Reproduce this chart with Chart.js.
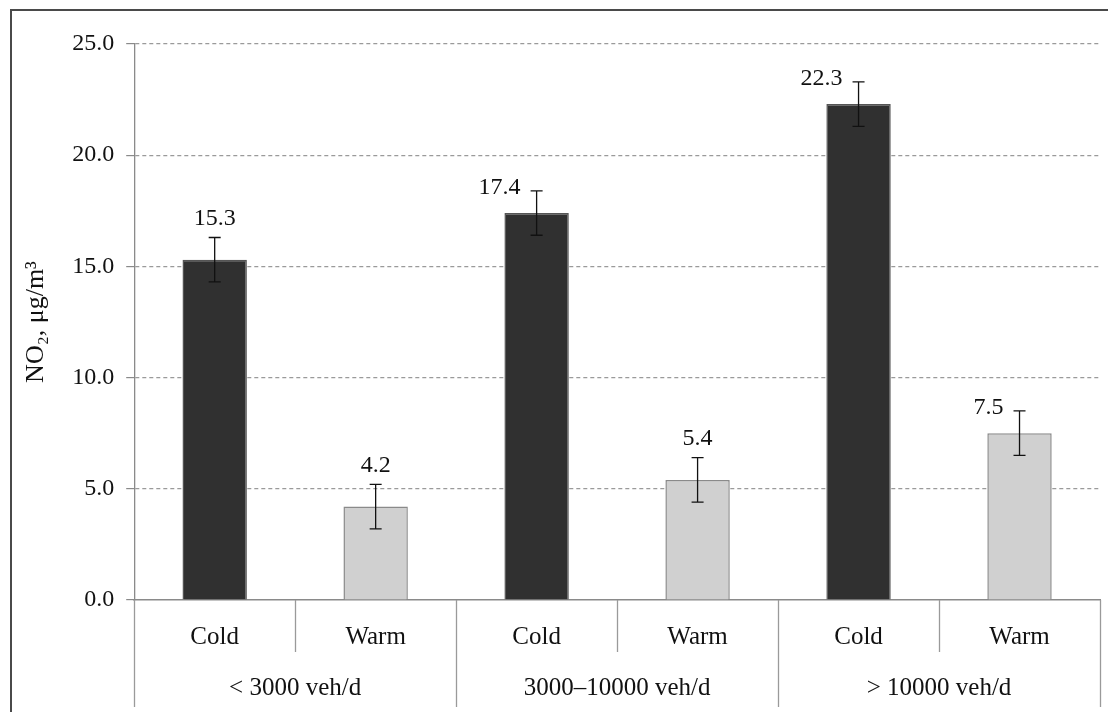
<!DOCTYPE html>
<html>
<head>
<meta charset="utf-8">
<script src="https://cdn.jsdelivr.net/npm/chart.js@4.4.1/dist/chart.umd.min.js"></script>
<style>
  html, body { margin: 0; padding: 0; background: #fff; overflow: hidden; }
  #wrap { position: relative; width: 1108px; height: 712px; }
  #frame { position: absolute; left: 10px; top: 9px; right: -10px; bottom: -10px;
           border: 2px solid #4a4a4a; pointer-events: none; }
</style>
</head>
<body>
<div id="wrap">
  <canvas id="no2-chart"></canvas>
  <div id="frame"></div>
</div>
<script>
// NO2 par saison et par trafic

const seasons = ['Cold', 'Warm', 'Cold', 'Warm', 'Cold', 'Warm'];
const trafficGroups = ['< 3000 veh/d', '3000\u201310000 veh/d', '> 10000 veh/d'];
const no2Means = [15.3, 4.2, 17.4, 5.4, 22.3, 7.5];
const no2Errors = [1.0, 1.0, 1.0, 1.0, 1.0, 1.0];
const yTicks = [0, 5, 10, 15, 20, 25];

// where the value label sits relative to the error bar
const labelSide = ['above', 'above', 'left', 'above', 'left', 'left'];

const FONT = '"Liberation Serif", "DejaVu Serif", serif';
const TEXT = '#111';
const LINE = '#9a9a9a';

const errorBarsPlugin = {
  id: 'errorBars',
  afterDatasetsDraw(chart) {
    const ctx = chart.ctx;
    const y = chart.scales.y;
    const meta = chart.getDatasetMeta(0);
    ctx.save();
    meta.data.forEach((bar, i) => {
      const x = bar.x;
      const top = y.getPixelForValue(no2Means[i] + no2Errors[i]);
      const bot = y.getPixelForValue(no2Means[i] - no2Errors[i]);
      ctx.strokeStyle = '#111';
      ctx.lineWidth = 1.3;
      ctx.beginPath();
      ctx.moveTo(x, top); ctx.lineTo(x, bot);
      ctx.moveTo(x - 6, top); ctx.lineTo(x + 6, top);
      ctx.moveTo(x - 6, bot); ctx.lineTo(x + 6, bot);
      ctx.stroke();

      ctx.font = '24px ' + FONT;
      ctx.fillStyle = TEXT;
      ctx.textBaseline = 'middle';
      const txt = no2Means[i].toFixed(1);
      if (labelSide[i] === 'left') {
        ctx.textAlign = 'right';
        ctx.fillText(txt, x - 16, top - 3);
      } else {
        ctx.textAlign = 'center';
        ctx.fillText(txt, x, top - 19);
      }
    });
    ctx.restore();
  }
};

// traits verticaux entre les catégories (2 niveaux)
const separatorsPlugin = {
  id: 'separators',
  afterDraw(chart) {
    const ctx = chart.ctx;
    const x = chart.scales.x;
    const y0 = chart.chartArea.bottom;
    const step = x.getPixelForValue(1) - x.getPixelForValue(0);
    const start = x.getPixelForValue(0) - step / 2;
    const perGroup = seasons.length / trafficGroups.length;
    ctx.save();
    ctx.strokeStyle = LINE;
    ctx.lineWidth = 1.3;
    ctx.beginPath();
    for (let i = 0; i <= seasons.length; i++) {
      const px = Math.round(start + i * step) + 0.5;
      const len = (i % perGroup === 0) ? 107 : 52;
      ctx.moveTo(px, y0);
      ctx.lineTo(px, y0 + len);
    }
    ctx.stroke();
    ctx.restore();
  }
};

new Chart(document.getElementById('no2-chart'), {
  type: 'bar',
  data: {
    labels: seasons,
    datasets: [{
      data: no2Means,
      backgroundColor: seasons.map(s => s === 'Cold' ? '#303030' : '#d0d0d0'),
      borderColor: seasons.map(s => s === 'Cold' ? '#555555' : '#8a8a8a'),
      borderWidth: 1.5,
      borderSkipped: 'bottom',
      categoryPercentage: 1.0,
      barPercentage: 0.4
    }]
  },
  options: {
    responsive: true,
    maintainAspectRatio: false,
    animation: false,
    layout: { padding: { left: 21, top: 44, right: 8, bottom: 10 } },
    plugins: { legend: { display: false }, tooltip: { enabled: false } },
    scales: {
      y: {
        min: 0,
        max: 25,
        afterBuildTicks: (scale) => { scale.ticks = yTicks.map(v => ({ value: v })); },
        ticks: {
          padding: 12,
          color: TEXT,
          font: { family: FONT, size: 24 },
          callback: (v) => Number(v).toFixed(1)
        },
        grid: {
          color: (c) => (c.tick && c.tick.value === 0) ? 'rgba(0,0,0,0)' : LINE,
          tickColor: '#8a8a8a',
          tickLength: 8,
          lineWidth: 1.2
        },
        border: { color: '#8a8a8a', width: 1.3, dash: [4, 3] },
        title: {
          display: true,
          text: 'NO\u2082, \u03bcg/m\u00b3',
          color: TEXT,
          font: { family: FONT, size: 26 },
          padding: { top: 0, bottom: 8 }
        }
      },
      x: {
        position: 'bottom',
        grid: { display: true, drawOnChartArea: false, drawTicks: false },
        border: { color: '#8a8a8a', width: 1.5 },
        ticks: { padding: 22, color: TEXT, font: { family: FONT, size: 25, lineHeight: 1.2 } }
      },
      x2: {
        type: 'category',
        labels: trafficGroups,
        position: 'bottom',
        offset: true,
        grid: { display: false, drawTicks: false },
        border: { display: false },
        ticks: { padding: -1, color: TEXT, font: { family: FONT, size: 25, lineHeight: 1.2 } }
      }
    }
  },
  plugins: [errorBarsPlugin, separatorsPlugin]
});
</script>
</body>
</html>
